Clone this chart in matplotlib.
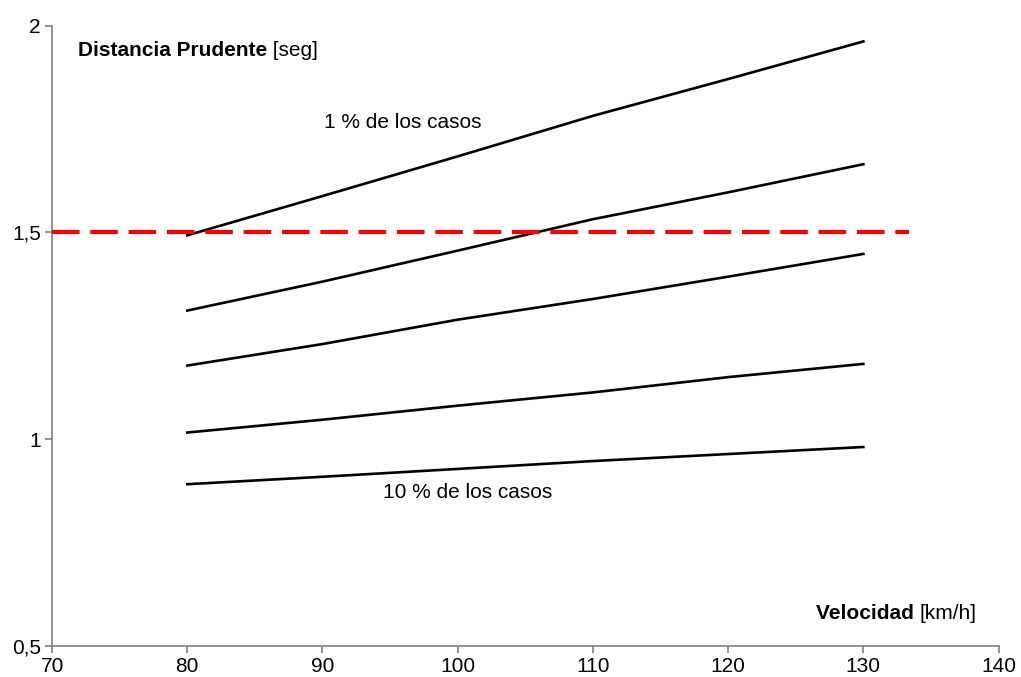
import matplotlib
matplotlib.use("Agg")
import matplotlib.pyplot as plt

plt.rcParams['font.family'] = ['Liberation Sans', 'DejaVu Sans']

# velocidad [km/h]
velocidad = [80, 90, 100, 110, 120, 130]
# distancia prudente [seg], del 1 % al 10 % de los casos
serie_1 = [1.493, 1.588, 1.684, 1.782, 1.871, 1.962]
serie_2 = [1.311, 1.381, 1.456, 1.532, 1.597, 1.665]
serie_3 = [1.178, 1.230, 1.289, 1.339, 1.393, 1.448]
serie_4 = [1.016, 1.047, 1.081, 1.113, 1.150, 1.182]
serie_5 = [0.891, 0.909, 0.928, 0.947, 0.964, 0.981]
limite = 1.5
limite_x = [70, 133.4]

xticks = [70, 80, 90, 100, 110, 120, 130, 140]
yticks = [0.5, 1, 1.5, 2]
ylabels = ['0,5', '1', '1,5', '2']

fig = plt.figure(figsize=(10.21, 6.77), dpi=100)
ax = fig.add_axes([0.051, 0.046, 0.927, 0.916])

for s in [serie_1, serie_2, serie_3, serie_4, serie_5]:
    ax.plot(velocidad, s, color='black', lw=1.9, zorder=2)

ax.plot(limite_x, [limite, limite], color='#ff0000', lw=3.0,
        dashes=(6.6, 2.6), dash_capstyle='butt', zorder=3)

ax.set_xlim(70, 140)
ax.set_ylim(0.5, 2)
ax.set_xticks(xticks)
ax.set_yticks(yticks)
ax.set_yticklabels(ylabels)
for side in ['top', 'right']:
    ax.spines[side].set_visible(False)
for side in ['left', 'bottom']:
    ax.spines[side].set_color('#808080')
    ax.spines[side].set_linewidth(1.2)
fs = 15
ax.tick_params(colors='#808080', labelcolor='black', labelsize=fs,
               length=5, width=1.2, direction='out', pad=3)

t1 = ax.text(71.9, 1.939, 'Distancia Prudente', fontsize=fs, fontweight='bold',
             va='center', ha='left')
ax.annotate(' [seg]', xy=(1, 0), xycoords=t1, fontsize=fs, va='bottom', ha='left')

t2 = ax.text(138.4, 0.578, '[km/h]', fontsize=fs, va='center', ha='right')
ax.annotate('Velocidad ', xy=(0, 0), xycoords=t2, fontsize=fs, fontweight='bold',
            va='bottom', ha='right')

ax.text(95.9, 1.767, '1 % de los casos', fontsize=fs, va='center', ha='center')
ax.text(100.7, 0.871, '10 % de los casos', fontsize=fs, va='center', ha='center')

fig.savefig('out.png', dpi=100)
